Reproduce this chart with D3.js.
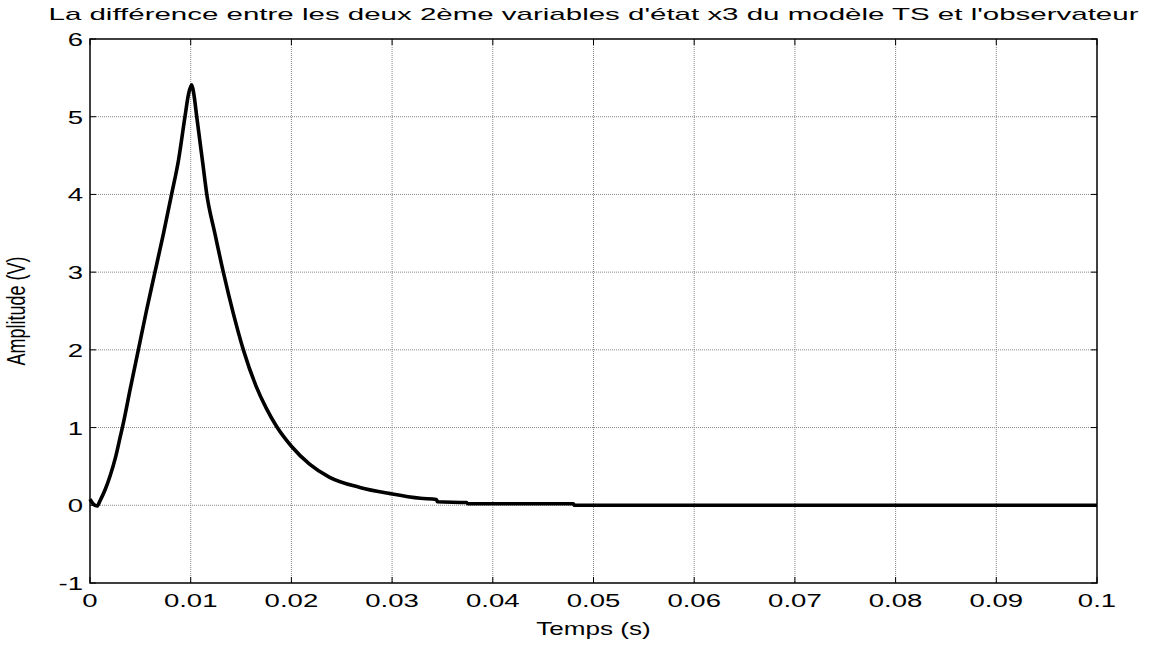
<!DOCTYPE html>
<html>
<head>
<meta charset="utf-8">
<script src="https://cdn.jsdelivr.net/npm/d3@7"></script>
<style>
  body { margin: 0; background: #fff; }
  text { font-family: "Liberation Sans", Arial, sans-serif; fill: #000; }
</style>
</head>
<body>
<div id="chart"></div>
<script>
// values
var times = [0, 0.0003, 0.0007, 0.001, 0.0015, 0.002, 0.0025, 0.003, 0.0033, 0.004, 0.0048, 0.0056, 0.00645,
    0.0073, 0.0081, 0.0088, 0.00943, 0.0098, 0.0101, 0.0103, 0.0106, 0.0112, 0.0116, 0.0124, 0.01324,
    0.01423, 0.01523, 0.0165, 0.0175, 0.0185, 0.02, 0.0218, 0.0238, 0.0268, 0.0298, 0.0328,
    0.0344, 0.0345, 0.0374, 0.0375, 0.048, 0.0481, 0.1];
var amplitude = [0.08, 0.02, -0.01, 0.06, 0.2, 0.38, 0.6, 0.88, 1.05, 1.5, 2.0, 2.5, 3.0,
    3.5, 4.0, 4.45, 5.0, 5.3, 5.41, 5.3, 5.0, 4.4, 4.0, 3.5, 3.0,
    2.47, 2.0, 1.53, 1.25, 1.02, 0.76, 0.53, 0.36, 0.23, 0.15, 0.09,
    0.075, 0.045, 0.035, 0.02, 0.02, 0.0, 0.0];
var xTicks = [0, 0.01, 0.02, 0.03, 0.04, 0.05, 0.06, 0.07, 0.08, 0.09, 0.1],
    xTickLabels = ["0", "0.01", "0.02", "0.03", "0.04", "0.05", "0.06", "0.07", "0.08", "0.09", "0.1"],
    yTicks = [-1, 0, 1, 2, 3, 4, 5, 6];

var W = 1150, H = 646,
    margin = { top: 39, right: 53, bottom: 63, left: 90 },
    width = W - margin.left - margin.right,
    height = H - margin.top - margin.bottom,
    stretch = 1.45;

var data = times.map(function(t, i) { return { t: t, v: amplitude[i] }; });

var x = d3.scaleLinear().domain([0, 0.1]).range([0, width]);
var y = d3.scaleLinear().domain([-1, 6]).range([height, 0]);

var svg = d3.select("#chart").append("svg")
    .attr("width", W)
    .attr("height", H);

var g = svg.append("g")
    .attr("transform", "translate(" + margin.left + "," + margin.top + ")");

// grid
g.selectAll(".gx").data(xTicks.slice(1, -1)).enter().append("line")
    .attr("x1", function(d) { return x(d); }).attr("x2", function(d) { return x(d); })
    .attr("y1", 0).attr("y2", height)
    .attr("stroke", "#888").attr("stroke-width", 1).attr("stroke-dasharray", "1,1");
g.selectAll(".gy").data(yTicks.slice(1, -1)).enter().append("line")
    .attr("y1", function(d) { return y(d); }).attr("y2", function(d) { return y(d); })
    .attr("x1", 0).attr("x2", width)
    .attr("stroke", "#888").attr("stroke-width", 1).attr("stroke-dasharray", "1,1");

// ticks on all four sides, inward
var tk = 6;
g.selectAll(".tb").data(xTicks).enter().append("line")
    .attr("x1", function(d) { return x(d); }).attr("x2", function(d) { return x(d); })
    .attr("y1", height).attr("y2", height - tk).attr("stroke", "#000");
g.selectAll(".tt").data(xTicks).enter().append("line")
    .attr("x1", function(d) { return x(d); }).attr("x2", function(d) { return x(d); })
    .attr("y1", 0).attr("y2", tk).attr("stroke", "#000");
g.selectAll(".tl").data(yTicks).enter().append("line")
    .attr("y1", function(d) { return y(d); }).attr("y2", function(d) { return y(d); })
    .attr("x1", 0).attr("x2", tk).attr("stroke", "#000");
g.selectAll(".tr").data(yTicks).enter().append("line")
    .attr("y1", function(d) { return y(d); }).attr("y2", function(d) { return y(d); })
    .attr("x1", width).attr("x2", width - tk).attr("stroke", "#000");

// box
g.append("rect")
    .attr("width", width).attr("height", height)
    .attr("fill", "none").attr("stroke", "#000").attr("stroke-width", 1.5);

// curve
var line = d3.line()
    .x(function(d) { return x(d.t); })
    .y(function(d) { return y(d.v); })
    .curve(d3.curveMonotoneX);

g.append("path")
    .datum(data)
    .attr("d", line)
    .attr("fill", "none")
    .attr("stroke", "#000")
    .attr("stroke-width", 3.6)
    .attr("stroke-linejoin", "round");

// tick labels
g.selectAll(".xl").data(xTicks).enter().append("text")
    .attr("transform", function(d) { return "translate(" + x(d) + "," + (height + 24) + ") scale(" + stretch + ",1)"; })
    .attr("text-anchor", "middle")
    .style("font-size", "19px")
    .text(function(d, i) { return xTickLabels[i]; });

g.selectAll(".yl").data(yTicks).enter().append("text")
    .attr("transform", function(d) { return "translate(-7," + (y(d) + 7) + ") scale(" + stretch + ",1)"; })
    .attr("text-anchor", "end")
    .style("font-size", "19px")
    .text(function(d) { return d; });

// axis labels
g.append("text")
    .attr("transform", "translate(" + width / 2 + "," + (height + 52) + ") scale(" + stretch + ",1)")
    .attr("text-anchor", "middle")
    .style("font-size", "18px")
    .text("Temps (s)");

g.append("text")
    .attr("transform", "translate(-65," + height / 2 + ") scale(" + stretch + ",1) rotate(-90)")
    .attr("text-anchor", "middle")
    .style("font-size", "18px")
    .text("Amplitude (V)");

// title
svg.append("text")
    .attr("x", margin.left + width / 2)
    .attr("y", 20)
    .attr("text-anchor", "middle")
    .attr("textLength", 1090)
    .attr("lengthAdjust", "spacingAndGlyphs")
    .style("font-size", "17px")
    .text("La différence entre les deux 2ème variables d'état x3 du modèle TS et l'observateur");
</script>
</body>
</html>
